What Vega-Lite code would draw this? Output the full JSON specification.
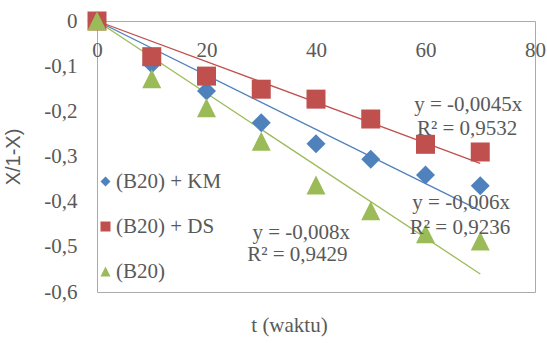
{
  "$schema": "https://vega.github.io/schema/vega-lite/v6.json",
  "width": 438,
  "height": 271,
  "autosize": {"type": "none"},
  "padding": {"left": 97, "top": 21, "right": 12, "bottom": 51},
  "background": "white",
  "config": {
    "view": {"stroke": "#ABABAB", "strokeWidth": 1},
    "font": "Liberation Serif",
    "legend": {
      "orient": "none",
      "legendX": -2,
      "legendY": 150,
      "title": null,
      "padding": 0,
      "symbolSize": 100,
      "symbolStrokeWidth": 0,
      "labelFont": "Liberation Serif",
      "labelFontSize": 21,
      "labelColor": "#595959",
      "labelOffset": 0,
      "rowPadding": 23
    }
  },
  "datasets": {
    "points": [
      {"series": "(B20) + KM", "t": 0, "v": 0},
      {"series": "(B20) + KM", "t": 10, "v": -0.095},
      {"series": "(B20) + KM", "t": 20, "v": -0.155},
      {"series": "(B20) + KM", "t": 30, "v": -0.225},
      {"series": "(B20) + KM", "t": 40, "v": -0.272},
      {"series": "(B20) + KM", "t": 50, "v": -0.306},
      {"series": "(B20) + KM", "t": 60, "v": -0.341},
      {"series": "(B20) + KM", "t": 70, "v": -0.365},
      {"series": "(B20) + DS", "t": 0, "v": 0},
      {"series": "(B20) + DS", "t": 10, "v": -0.079},
      {"series": "(B20) + DS", "t": 20, "v": -0.122},
      {"series": "(B20) + DS", "t": 30, "v": -0.151},
      {"series": "(B20) + DS", "t": 40, "v": -0.173},
      {"series": "(B20) + DS", "t": 50, "v": -0.217},
      {"series": "(B20) + DS", "t": 60, "v": -0.273},
      {"series": "(B20) + DS", "t": 70, "v": -0.29},
      {"series": "(B20)", "t": 0, "v": 0},
      {"series": "(B20)", "t": 10, "v": -0.128},
      {"series": "(B20)", "t": 20, "v": -0.192},
      {"series": "(B20)", "t": 30, "v": -0.266},
      {"series": "(B20)", "t": 40, "v": -0.363},
      {"series": "(B20)", "t": 50, "v": -0.42},
      {"series": "(B20)", "t": 60, "v": -0.471},
      {"series": "(B20)", "t": 70, "v": -0.487}
    ],
    "trends": [
      {"series": "(B20) + KM", "t": 0, "v": 0},
      {"series": "(B20) + KM", "t": 70, "v": -0.42},
      {"series": "(B20) + DS", "t": 0, "v": 0},
      {"series": "(B20) + DS", "t": 70, "v": -0.315},
      {"series": "(B20)", "t": 0, "v": 0},
      {"series": "(B20)", "t": 70, "v": -0.56}
    ],
    "notes": [
      {"label": "y = -0,0045x", "t": 67.8, "v": -0.186},
      {"label": "R² = 0,9532", "t": 67.6, "v": -0.239},
      {"label": "y = -0,006x", "t": 66.5, "v": -0.403},
      {"label": "R² = 0,9236", "t": 66.3, "v": -0.458},
      {"label": "y = -0,008x", "t": 37.3, "v": -0.469},
      {"label": "R² = 0,9429", "t": 36.6, "v": -0.518}
    ]
  },
  "layer": [
    {
      "data": {"name": "trends"},
      "mark": {"type": "line", "strokeWidth": 1.3},
      "encoding": {
        "x": {
          "field": "t",
          "type": "quantitative",
          "scale": {"domain": [0, 80], "nice": false, "zero": false},
          "axis": {
            "orient": "bottom",
            "offset": -271,
            "values": [0, 20, 40, 60, 80],
            "domain": false,
            "ticks": false,
            "tickSize": 0,
            "grid": false,
            "labelFlush": false,
            "labelOverlap": false,
            "labelPadding": 18,
            "labelFont": "Liberation Serif",
            "labelFontSize": 21,
            "labelColor": "#595959",
            "title": "t (waktu)",
            "titleFont": "Liberation Serif",
            "titleFontSize": 21,
            "titleFontWeight": "normal",
            "titleColor": "#595959",
            "titleX": 192,
            "titleY": 304,
            "titleBaseline": "middle",
            "titleAlign": "center"
          }
        },
        "y": {
          "field": "v",
          "type": "quantitative",
          "scale": {"domain": [-0.6, 0], "nice": false, "zero": false},
          "axis": {
            "orient": "left",
            "values": [-0.6, -0.5, -0.4, -0.3, -0.2, -0.1, 0],
            "labelExpr": "datum.value == 0 ? '0' : '-0,' + round(abs(datum.value) * 10)",
            "domain": false,
            "ticks": false,
            "tickSize": 0,
            "grid": false,
            "labelPadding": 20,
            "labelFont": "Liberation Serif",
            "labelFontSize": 21,
            "labelColor": "#595959",
            "title": "X/1-X)",
            "titleFont": "Liberation Sans",
            "titleFontSize": 20,
            "titleFontWeight": "normal",
            "titleColor": "#595959",
            "titlePadding": 20
          }
        },
        "color": {
          "field": "series",
          "type": "nominal",
          "scale": {
            "domain": ["(B20) + KM", "(B20) + DS", "(B20)"],
            "range": ["#4F81BD", "#C0504D", "#9BBB59"]
          },
          "legend": {
            "encode": {
              "symbols": {"update": {"size": {"value": 100}, "strokeWidth": {"value": 0}}},
              "labels": {"update": {"font": {"value": "Liberation Serif"}, "fontSize": {"value": 21}, "fill": {"value": "#595959"}}}
            }
          }
        },
        "detail": {"field": "series"}
      }
    },
    {
      "data": {"name": "points"},
      "mark": {"type": "point", "filled": true, "opacity": 1, "size": 361, "strokeWidth": 0},
      "encoding": {
        "x": {"field": "t", "type": "quantitative"},
        "y": {"field": "v", "type": "quantitative"},
        "color": {"field": "series", "type": "nominal"},
        "shape": {
          "field": "series",
          "type": "nominal",
          "scale": {
            "domain": ["(B20) + KM", "(B20) + DS", "(B20)"],
            "range": ["diamond", "square", "M0,-1L1,1L-1,1Z"]
          }
        }
      }
    },
    {
      "data": {"name": "notes"},
      "mark": {
        "type": "text",
        "font": "Liberation Serif",
        "fontSize": 21,
        "color": "#595959",
        "align": "center",
        "baseline": "middle"
      },
      "encoding": {
        "x": {"field": "t", "type": "quantitative"},
        "y": {"field": "v", "type": "quantitative"},
        "text": {"field": "label"}
      }
    }
  ]
}
